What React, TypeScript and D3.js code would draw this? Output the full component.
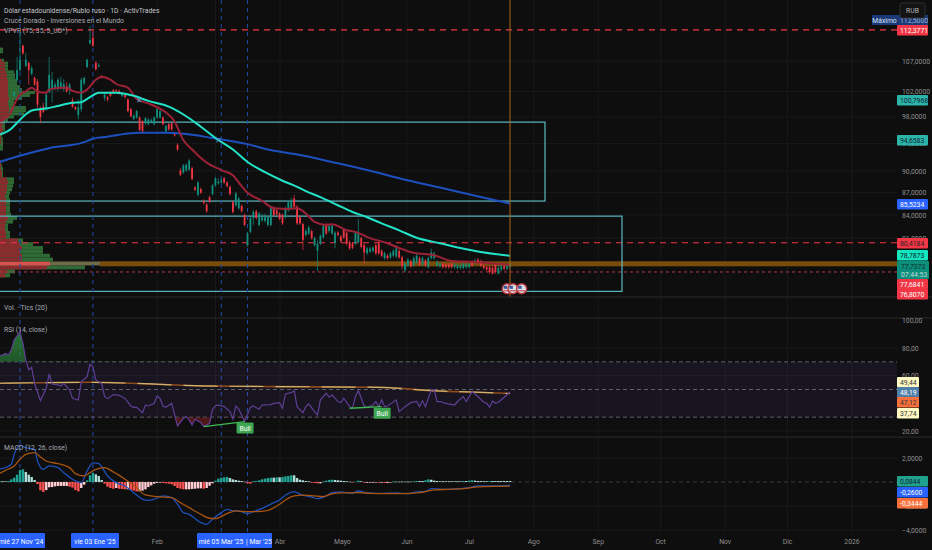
import * as d3 from "d3";

// bar 0 is 27 Nov '24, bar 168 is 21 Jul '25
const candles: number[][] = [
  // open, high, low, close
  [98.9, 99.4, 98.7, 98.8], [101.3, 102.0, 101.0, 102.0], [103.9, 107.7, 103.5, 105.5],
  [105.5, 111.9, 105.2, 107.2], [109.6, 109.8, 108.1, 108.3], [106.2, 108.4, 106.0, 107.2], [106.7, 106.9, 103.1, 105.5],
  [104.9, 106.2, 104.6, 105.8], [104.2, 104.4, 102.9, 103.1], [103.6, 104.0, 99.4, 99.9], [99.4, 99.6, 97.0, 98.0],
  [99.6, 100.2, 98.6, 98.8], [99.2, 101.8, 99.0, 101.5], [101.9, 107.7, 101.7, 104.7], [102.4, 105.2, 100.3, 103.9],
  [102.4, 103.5, 102.2, 103.1], [102.4, 104.2, 102.0, 103.9], [102.5, 104.4, 102.3, 103.5], [102.4, 104.0, 102.0, 103.2],
  [102.8, 103.5, 101.8, 102.0], [102.3, 103.4, 101.5, 103.1], [100.6, 101.0, 99.4, 99.6], [99.5, 99.7, 99.0, 99.2],
  [98.3, 100.7, 97.6, 99.5], [99.2, 104.2, 98.8, 103.9], [103.3, 104.4, 103.0, 104.2], [106.0, 107.4, 105.8, 107.2],
  [110.0, 113.0, 109.8, 110.6], [111.0, 112.3, 109.4, 109.6], [106.7, 107.0, 105.4, 105.6], [106.1, 106.6, 105.9, 106.3],
  [104.5, 104.7, 104.1, 104.3], [101.0, 101.8, 100.5, 101.5], [101.1, 101.3, 100.4, 100.7], [101.8, 102.0, 101.1, 101.3],
  [102.2, 102.4, 101.6, 101.8], [102.2, 102.4, 101.8, 102.0], [102.1, 102.3, 101.5, 101.7], [101.3, 101.9, 101.1, 101.7],
  [101.5, 101.7, 100.9, 101.1], [100.7, 100.9, 98.7, 98.9], [99.2, 99.4, 97.9, 98.1], [97.7, 98.4, 97.5, 98.2],
  [97.9, 99.1, 97.7, 98.9], [97.9, 98.1, 95.8, 96.0], [97.3, 97.5, 95.5, 95.8], [97.0, 98.0, 96.8, 97.8],
  [96.9, 97.8, 96.7, 97.6], [97.2, 97.8, 97.0, 97.5], [96.9, 98.1, 96.7, 97.9], [97.9, 99.4, 97.7, 99.2],
  [97.9, 99.1, 97.7, 98.9], [97.9, 98.1, 96.7, 96.9], [95.8, 96.8, 95.6, 96.6], [96.9, 97.1, 95.9, 96.1],
  [97.0, 97.2, 95.9, 96.1], [95.5, 95.7, 95.0, 95.2], [93.8, 94.0, 92.9, 93.1],
  [90.1, 90.4, 89.3, 89.5], [89.8, 91.0, 89.6, 90.8], [90.1, 91.1, 89.9, 90.9], [90.2, 91.7, 90.0, 91.5], [90.4, 90.6, 88.7, 88.9],
  [87.7, 87.9, 87.2, 87.4], [86.7, 88.6, 86.5, 88.4], [87.5, 87.7, 86.8, 87.0], [85.9, 86.1, 85.4, 85.6],
  [85.4, 85.6, 84.3, 84.5], [86.4, 86.6, 85.6, 85.8], [86.8, 88.2, 86.6, 88.0], [88.0, 89.2, 87.8, 89.0],
  [88.3, 89.0, 88.1, 88.5], [88.4, 89.0, 88.2, 88.7], [89.0, 89.2, 88.2, 88.4], [88.4, 88.6, 87.7, 87.9],
  [87.8, 88.0, 86.6, 86.8], [85.7, 85.9, 84.2, 84.4], [85.3, 87.1, 85.1, 86.9], [84.9, 86.4, 84.7, 86.2],
  [85.2, 85.4, 84.3, 84.5], [84.0, 84.2, 82.5, 82.7], [80.1, 81.8, 79.9, 81.6], [81.8, 83.8, 81.6, 83.6],
  [83.6, 84.7, 82.7, 84.4], [84.5, 84.7, 83.4, 83.6], [82.7, 84.4, 82.5, 84.2], [83.3, 84.2, 83.1, 83.7],
  [83.2, 84.2, 83.0, 83.9], [82.7, 83.9, 82.5, 83.7], [82.7, 85.3, 82.5, 85.0], [84.9, 85.2, 83.8, 84.0],
  [84.6, 84.8, 83.9, 84.1], [84.2, 84.4, 83.3, 83.5], [84.0, 84.2, 82.7, 82.9], [83.7, 85.1, 83.5, 84.9],
  [84.6, 85.9, 84.4, 85.7], [84.9, 86.3, 84.7, 85.9], [86.2, 86.7, 84.9, 85.1], [85.1, 85.3, 82.7, 82.9],
  [83.7, 83.9, 82.7, 82.9], [82.8, 83.0, 79.5, 80.8], [81.4, 82.2, 81.2, 81.9], [81.6, 82.6, 81.4, 82.4],
  [81.9, 82.1, 80.8, 81.0], [80.1, 81.2, 79.9, 81.0], [79.4, 80.7, 76.9, 80.3], [80.3, 81.5, 80.1, 81.3],
  [81.1, 82.8, 80.9, 82.6], [82.8, 83.0, 81.4, 81.6], [81.9, 82.8, 81.7, 82.6], [81.6, 82.8, 81.4, 82.6],
  [80.4, 81.9, 79.7, 81.7], [81.7, 81.9, 81.2, 81.4], [81.2, 81.4, 80.4, 80.6], [82.1, 82.3, 80.9, 81.1],
  [81.7, 81.9, 80.1, 80.3], [80.5, 80.7, 79.5, 79.7], [80.3, 80.5, 79.6, 79.8], [80.3, 81.9, 80.1, 81.7],
  [80.5, 83.5, 80.3, 81.7], [81.0, 81.2, 79.7, 79.9], [80.1, 80.3, 77.8, 79.2], [79.1, 79.9, 78.9, 79.7],
  [79.3, 79.9, 79.1, 79.7], [79.4, 80.0, 79.2, 79.8], [80.1, 80.3, 78.9, 79.1], [80.3, 80.5, 78.9, 79.1],
  [79.4, 79.6, 78.6, 78.8], [78.5, 79.3, 78.3, 79.1], [78.8, 79.0, 78.3, 78.5], [78.6, 79.3, 78.4, 79.1],
  [78.8, 79.6, 78.6, 79.4], [78.7, 80.1, 78.5, 79.7], [79.4, 79.6, 78.4, 78.6], [78.6, 78.8, 77.1, 77.6],
  [77.0, 78.0, 76.8, 77.8], [77.6, 78.5, 77.4, 78.3], [78.1, 78.3, 77.3, 77.5], [77.6, 78.7, 77.4, 78.5],
  [78.0, 79.0, 77.8, 78.8], [78.5, 78.7, 77.5, 77.7], [77.7, 78.7, 77.5, 78.5], [78.2, 78.4, 77.4, 77.6],
  [77.4, 78.7, 77.2, 78.5], [78.5, 79.7, 78.3, 79.2], [78.5, 79.3, 78.3, 79.1], [77.6, 78.2, 77.4, 78.0],
  [77.5, 78.0, 77.3, 77.8], [77.8, 78.0, 77.2, 77.4], [77.7, 77.9, 77.2, 77.4], [77.7, 77.9, 77.2, 77.4],
  [77.8, 78.0, 77.2, 77.4], [77.4, 77.9, 77.2, 77.7], [77.3, 77.8, 77.1, 77.6], [77.3, 77.8, 77.1, 77.6],
  [77.3, 78.0, 77.1, 77.8], [77.4, 77.9, 77.2, 77.7], [77.4, 78.0, 77.2, 77.8], [78.0, 78.2, 77.4, 77.6],
  [77.9, 78.4, 77.7, 78.2], [78.3, 78.5, 77.7, 77.9], [78.1, 78.3, 77.4, 77.6], [77.6, 77.8, 77.1, 77.3],
  [77.4, 77.6, 76.9, 77.1], [77.4, 77.6, 76.6, 76.8], [77.3, 77.5, 76.5, 76.6], [77.7, 77.9, 76.6, 76.8],
  [76.6, 77.6, 76.5, 77.3], [77.1, 77.7, 76.9, 77.5], [77.5, 77.7, 77.0, 77.2], [77.2, 77.7, 77.0, 77.5],
  [77.4, 77.9, 77.3, 77.74],
];
const firstCandleBar = -3;

const redBars = [-7, -3, -2, 0, 2, 4, 6, 9, 10, 14, 16, 18, 21, 23, 26, 28, 31, 33, 37, 40, 44, 47, 50, 53, 56, 59, 64, 69, 73, 75, 78, 83, 87, 92, 95, 98, 101, 105, 107, 112, 115, 120, 126, 130, 135, 142, 148, 155, 162, 168];
const redValues = [97.3, 98.8, 99.9, 101.5, 102, 102.6, 102, 101.8, 102.3, 102.6, 102.6, 102.1, 101.8, 102.3, 103.9, 104.4, 103.9, 103.2, 102.6, 100.8, 100.1, 99.5, 98.7, 97.3, 94.5, 93.1, 91.2, 90.15, 89.4, 88.4, 87, 85.9, 84.9, 84.8, 84.9, 84.2, 83.1, 82.7, 82.8, 82, 81.8, 81, 80.35, 79.75, 79.15, 78.85, 78.15, 78.05, 77.85, 77.68];
const tealBars = [-7, -3, -1, 2, 4, 9, 13, 18, 21, 24, 27, 33, 39, 44, 51, 57, 62, 68, 73, 78, 84, 90, 95, 98, 103, 109, 114, 119, 124, 130, 136, 144, 151, 158, 168];
const tealValues = [95.3, 96.2, 97.1, 98.4, 99, 99.3, 99.7, 100.2, 100.3, 101.1, 101.8, 101.8, 101.3, 100.5, 99.6, 98.1, 96.5, 94.5, 93.1, 91.3, 89.85, 88.65, 87.8, 87.2, 86.4, 85.3, 84.4, 83.7, 82.9, 82, 81.05, 80.35, 79.75, 79.25, 78.79];
const blueBars = [-7, 0, 10, 22, 25, 30, 34, 41, 50, 57, 66, 78, 85, 96, 108, 120, 130, 144, 158, 168];
const blueValues = [91.3, 92.2, 93.3, 94.2, 94.7, 95, 95.3, 95.6, 95.6, 95.4, 94.8, 93.9, 93.1, 92.3, 91.2, 90.05, 89, 87.7, 86.4, 85.52];
const crossBars = [41, 68];
const crossValues = [100.7, 94.5];

// volume profile rows, bottom row first (75 rows requested, the top ones are empty)
const vpFirstPrice = 76.4;
const vpStep = 0.48;
const vpTotal = [10, 15, 85, 100, 53, 50, 43, 43, 33, 23, 10, 10, 8, 8, 13, 17, 11, 10, 10, 10, 10, 9, 10, 12, 13, 14, 14, 3, 3, 3, 2, 1, 0, 0, 0, 3, 3, 3, 3, 2, 3, 5, 5, 5, 8, 14, 24, 26, 26, 15, 14, 22, 30, 35, 22, 20, 17, 17, 15, 15, 14, 8, 8, 8, 4, 0, 0, 3, 3];
const vpDown = [5, 7, 47, 50, 22, 22, 20, 22, 20, 18, 6, 6, 5, 5, 6, 8, 6, 6, 6, 6, 6, 5, 6, 7, 7, 8, 7, 2, 2, 1, 1, 1, 0, 0, 0, 0, 0, 1, 1, 1, 2, 3, 2, 3, 4, 7, 8, 9, 9, 8, 8, 9, 8, 8, 8, 8, 8, 8, 7, 7, 6, 5, 5, 5, 2, 0, 0, 0, 0];

const rsiBars = [-7, -6, -5, -4, -3, -2, 0, 1, 2, 3, 4, 5, 7, 9, 10, 11, 13, 14, 15, 17, 18, 20, 21, 23, 24, 25, 26, 28, 29, 30, 32, 34, 36, 38, 39, 40, 42, 43, 44, 46, 47, 48, 49, 50, 52, 54, 56, 57, 58, 59, 60, 62, 63, 65, 66, 67, 68, 70, 72, 73, 74, 75, 77, 79, 80, 82, 83, 86, 87, 89, 90, 91, 93, 94, 95, 97, 98, 99, 101, 102, 103, 105, 106, 107, 109, 110, 111, 113, 114, 115, 116, 118, 119, 121, 122, 123, 124, 125, 126, 129, 130, 132, 134, 136, 137, 138, 139, 141, 142, 143, 144, 146, 149, 150, 152, 153, 155, 157, 159, 160, 161, 162, 163, 164, 166, 168];
const rsiValues = [74.5, 74.9, 76.1, 74.9, 78.5, 85.8, 91.8, 83.4, 71.3, 64.1, 66, 54.5, 42, 50.9, 61.2, 54, 53.3, 52.5, 54.5, 49.7, 43.6, 42.4, 55.7, 59.3, 68.2, 66.5, 56.9, 54.5, 44.8, 43.4, 46.3, 45.8, 43.6, 38.1, 37.1, 37.1, 33.3, 38.8, 38.1, 40, 45.3, 43.6, 38.1, 37.1, 40, 23.7, 29.2, 30.4, 28, 24.4, 28.5, 26.1, 23.2, 25.6, 35.7, 38.1, 38.8, 37.6, 34, 28.5, 38.1, 35.7, 26.8, 37.1, 38.1, 35.7, 38.8, 39.1, 40, 40.5, 36.4, 46.8, 47.7, 49.2, 37.6, 33.3, 37.6, 39.6, 34, 31.6, 42.5, 47.3, 44.4, 46.1, 41.3, 40.5, 43.7, 37.6, 36.4, 44.9, 49.2, 38.1, 37.2, 38.8, 41.3, 37.6, 42.5, 37.6, 38.1, 42.5, 34, 37.6, 40.5, 41.3, 37.6, 42, 37.6, 49.7, 49.7, 41.3, 41.3, 40, 38.8, 41.3, 44.9, 41.3, 48.5, 44.9, 40.8, 40, 37.2, 41.7, 40, 40.8, 44.4, 48.2];
const rsiMaBars = [-7, 25, 45, 62, 89, 123, 141, 161, 168];
const rsiMaValues = [54.5, 55.2, 54, 52.6, 52.1, 51.6, 49.2, 47.7, 47.12];
const bullBars = [[63, 77], [113, 124]];
const bullValues = [[23.2, 26.8], [36.4, 37.6]];

const macdBars = [-7, -5, -3, -2, 0, 2, 5, 6, 8, 10, 13, 15, 18, 21, 23, 25, 27, 30, 33, 36, 39, 42, 44, 46, 49, 52, 54, 56, 58, 62, 64, 66, 69, 71, 73, 75, 78, 80, 83, 87, 89, 91, 94, 95, 97, 100, 102, 105, 107, 110, 112, 114, 116, 119, 123, 129, 133, 136, 139, 141, 145, 151, 154, 157, 160, 166, 168];
const macdValues = [1.09, 1.2, 1.48, 2.3, 3.06, 2.86, 2.72, 1.75, 1.06, 1.34, 1.2, 0.78, 0.23, -0.05, 0.92, 1.6, 1.53, 0.5, -0.05, -0.33, -0.89, -1.44, -1.53, -1.44, -1.16, -1.3, -1.86, -2.55, -2.69, -3.39, -3.53, -3.11, -2.55, -2.28, -2.41, -2.41, -2.64, -2.47, -2.19, -1.72, -1.5, -1.1, -0.8, -0.89, -1.1, -1.25, -1.39, -1.16, -0.89, -0.83, -0.89, -0.94, -0.75, -0.91, -0.94, -0.91, -0.97, -0.83, -0.78, -0.55, -0.61, -0.55, -0.47, -0.33, -0.33, -0.33, -0.26];
const signalBars = [-7, -5, -2, 0, 2, 5, 7, 9, 13, 17, 19, 22, 24, 26, 29, 32, 36, 40, 43, 47, 52, 55, 58, 62, 65, 67, 71, 74, 78, 81, 85, 89, 91, 94, 97, 101, 104, 107, 111, 116, 120, 126, 131, 137, 142, 147, 153, 157, 164, 168];
const signalValues = [0.7, 0.97, 1.34, 1.89, 2.31, 2.45, 2.09, 1.75, 1.53, 1.2, 0.7, 0.5, 0.78, 1.06, 1.2, 0.84, 0.23, -0.47, -1.08, -1.22, -1.3, -1.72, -2.14, -2.69, -3.02, -3.05, -2.64, -2.41, -2.47, -2.47, -2.36, -1.86, -1.5, -1.16, -1.1, -1.16, -1.22, -0.99, -0.91, -0.89, -0.94, -0.97, -0.97, -0.89, -0.66, -0.61, -0.53, -0.41, -0.36, -0.34];
const firstHistBar = -7;
const histValues = [0.06, 0.06, 0.06, 0.08, 0.22, 0.36, 0.61, 1.0, 1.06, 0.83, 0.61, 0.42, 0.17, -0.17, -0.69, -0.83, -0.67, -0.44, -0.42, -0.36, -0.33, -0.33, -0.33, -0.33, -0.39, -0.47, -0.67, -0.78, -0.5, -0.22, 0.14, 0.56, 0.75, 0.64, 0.5, 0.17, -0.14, -0.39, -0.5, -0.56, -0.5, -0.56, -0.58, -0.61, -0.61, -0.67, -0.72, -0.78, -0.78, -0.72, -0.61, -0.42, -0.28, -0.14, -0.08, -0.06, -0.08, -0.11, -0.14, -0.19, -0.33, -0.5, -0.56, -0.61, -0.61, -0.61, -0.58, -0.56, -0.53, -0.53, -0.56, -0.5, -0.31, -0.11, 0.11, 0.28, 0.36, 0.39, 0.42, 0.33, 0.22, 0.17, 0.11, 0.08, 0.03, -0.11, -0.14, 0.06, 0.08, 0.14, 0.22, 0.28, 0.33, 0.36, 0.36, 0.39, 0.39, 0.42, 0.47, 0.5, 0.56, 0.56, 0.33, 0.19, 0.14, 0.08, 0.06, -0.06, -0.08, -0.11, -0.11, 0.03, 0.11, 0.17, 0.19, 0.17, 0.14, 0.11, 0.08, 0.06, 0.03, -0.03, 0.03, 0.11, 0.06, -0.06, -0.06, -0.06, -0.03, -0.03, -0.06, -0.06, -0.08, -0.08, -0.03, 0.03, 0.03, 0.03, 0.03, 0.03, 0.03, 0.03, 0.06, 0.08, 0.08, 0.08, 0.14, 0.22, 0.19, 0.11, 0.08, 0.06, 0.06, 0.06, 0.06, 0.06, 0.06, 0.06, 0.06, 0.08, 0.08, 0.11, 0.14, 0.11, 0.08, 0.08, 0.06, 0.06, 0.08, 0.08, 0.08, 0.08, 0.08, 0.08, 0.08, 0.08];

const priceTicks = [107, 102, 98, 94, 90, 87, 84, 81];
const rsiTicks = [100, 80, 60, 20];
const macdTicks = [2, -2, -4];
const levelPrices = [112.3771, 80.4184];
const thinLevelPrice = 76.807;
const pocPrice = 77.8;
const monthTicks = [new Date(2025, 1, 1), new Date(2025, 2, 1), new Date(2025, 3, 1), new Date(2025, 4, 1), new Date(2025, 5, 1), new Date(2025, 6, 1), new Date(2025, 7, 1), new Date(2025, 8, 1), new Date(2025, 9, 1), new Date(2025, 10, 1), new Date(2025, 11, 1), new Date(2026, 0, 1)];
const monthLabels = ["Feb", "", "Abr", "Mayo", "Jun", "Jul", "Ago", "Sep", "Oct", "Nov", "Dic", "2026"];
const markedBars = [0, 25, 69, 78];
const flagBars = [167, 169, 172];

const priceTags = [
  { text: "100,7968", y: 100, bg: "#2bb5a8", fg: "#123" },
  { text: "94,6583", y: 140, bg: "#2bb5a8", fg: "#123" },
  { text: "112,3771", y: 30, bg: "#f23645", fg: "#fff" },
  { text: "85,5234", y: 204, bg: "#2962ff", fg: "#fff" },
  { text: "80,4184", y: 243, bg: "#f23645", fg: "#222" },
  { text: "78,7873", y: 255, bg: "#12e6bd", fg: "#123" },
  { text: "77,6841", y: 284, bg: "#f23645", fg: "#fff" },
  { text: "76,8070", y: 294, bg: "#f23645", fg: "#fff" },
  { text: "49,44", y: 382, bg: "#fff9c4", fg: "#333" },
  { text: "48,19", y: 392, bg: "#4f7ea8", fg: "#fff" },
  { text: "47,12", y: 402, bg: "#f7703c", fg: "#333" },
  { text: "37,74", y: 413, bg: "#fff9c4", fg: "#333" },
  { text: "0,0844", y: 481, bg: "#1fa38f", fg: "#123" },
  { text: "-0,2600", y: 492, bg: "#2962ff", fg: "#fff" },
  { text: "-0,3444", y: 503, bg: "#f7703c", fg: "#fff" },
];

const W = 932;
const H = 550;
const AXIS_X = 897;
const FONT = "Roboto, 'Liberation Sans', sans-serif";
const TEXT_SIZE = 6.8;

const x = d3.scaleLinear().domain([0, 168]).range([20, 510]);
const xTime = d3.scaleTime().domain([new Date(2024, 10, 27), new Date(2026, 0, 1)]).range([20, 852]);
const yPrice = d3.scaleLog().domain([107, 84]).range([61, 215]);
const yRsi = d3.scaleLinear().domain([80, 20]).range([348, 431]);
const yMacd = d3.scaleLinear().domain([2, -4]).range([458, 530]);

function seriesPath(bars: number[], values: number[], y: (v: number) => number, curve: d3.CurveFactory = d3.curveMonotoneX) {
  return d3
    .line<number>()
    .x((b) => x(b))
    .y((_, i) => y(values[i]))
    .curve(curve)(bars) as string;
}

function histColor(v: number, prev: number) {
  if (v >= 0) return v > prev ? "#1fa596" : "#b2dfdb";
  return v < prev ? "#ff5252" : "#ffcdd2";
}

export default function App() {
  const rsiArea = d3
    .area<number>()
    .x((b) => x(b))
    .y0(yRsi(70))
    .y1((_, i) => yRsi(rsiValues[i]))(rsiBars) as string;
  const rsiAreaLow = d3
    .area<number>()
    .x((b) => x(b))
    .y0(yRsi(30))
    .y1((_, i) => yRsi(rsiValues[i]))(rsiBars) as string;

  return (
    <svg width={W} height={H} style={{ position: "absolute", left: 0, top: 0, background: "#0e0e0e" }} fontFamily={FONT}>
      <defs>
        <clipPath id="pricePane"><rect x={0} y={0} width={AXIS_X} height={297} /></clipPath>
        <clipPath id="above70"><rect x={0} y={318} width={AXIS_X} height={yRsi(70) - 318} /></clipPath>
        <clipPath id="below30"><rect x={0} y={yRsi(30)} width={AXIS_X} height={20} /></clipPath>
        <linearGradient id="overFill" x1="0" y1="0" x2="0" y2="1">
          <stop offset="0" stopColor="#2e8b3d" stopOpacity={0.8} />
          <stop offset="1" stopColor="#2e8b3d" stopOpacity={0.1} />
        </linearGradient>
      </defs>

      {/* grid */}
      {monthTicks.map((d) => (
        <line key={+d} x1={xTime(d)} x2={xTime(d)} y1={0} y2={533} stroke="#191919" />
      ))}
      {priceTicks.map((p) => (
        <line key={p} x1={0} x2={AXIS_X} y1={yPrice(p)} y2={yPrice(p)} stroke="#191919" />
      ))}
      {rsiTicks.slice(1).map((r) => (
        <line key={r} x1={0} x2={AXIS_X} y1={yRsi(r)} y2={yRsi(r)} stroke="#191919" />
      ))}
      {macdTicks.map((m) => (
        <line key={m} x1={0} x2={AXIS_X} y1={yMacd(m)} y2={yMacd(m)} stroke="#191919" />
      ))}

      {/* volume profile */}
      <g clipPath="url(#pricePane)">
        {vpTotal.map((v, i) => {
          const p = vpFirstPrice + i * vpStep;
          const top = yPrice(p + vpStep / 2);
          const h = yPrice(p - vpStep / 2) - top;
          const isPoc = v === d3.max(vpTotal);
          return (
            <g key={i}>
              <rect x={0} y={top} width={v} height={h} fill={isPoc ? "#6f6a4a" : "#2f6a35"} />
              <rect x={0} y={top} width={vpDown[i]} height={h} fill={isPoc ? "#d9514e" : "#8a2c2e"} />
            </g>
          );
        })}
        <rect x={100} width={AXIS_X - 100} y={yPrice(pocPrice) - 2.5} height={5} fill="#7a4c0a" />
      </g>

      {/* levels and boxes */}
      {levelPrices.map((p) => (
        <line key={p} x1={0} x2={AXIS_X} y1={yPrice(p)} y2={yPrice(p)} stroke="#f23645" strokeWidth={1.2} strokeDasharray="6 5" />
      ))}
      <line x1={0} x2={AXIS_X} y1={yPrice(thinLevelPrice)} y2={yPrice(thinLevelPrice)} stroke="#b8324a" strokeDasharray="3 3" />
      <rect x={-3} y={yPrice(97.2)} width={x(180) + 3} height={yPrice(85.86) - yPrice(97.2)} fill="none" stroke="#5cb9c4" strokeWidth={1.2} />
      <rect x={-3} y={yPrice(83.85)} width={x(206.4) + 3} height={yPrice(74.5) - yPrice(83.85)} fill="none" stroke="#5cb9c4" strokeWidth={1.2} />

      {/* marked dates */}
      {markedBars.map((b) => (
        <line key={b} x1={x(b)} x2={x(b)} y1={0} y2={533} stroke="#1f4aa8" strokeDasharray="4 4" />
      ))}

      {/* candles */}
      <g clipPath="url(#pricePane)">
        {candles.map(([o, h, l, c], i) => {
          const bar = firstCandleBar + i;
          const color = c >= o ? "#12907f" : "#f23645";
          const top = yPrice(Math.max(o, c));
          return (
            <g key={i}>
              <line x1={x(bar)} x2={x(bar)} y1={yPrice(h)} y2={yPrice(l)} stroke={color} strokeWidth={0.7} />
              <rect x={x(bar) - 0.9} y={top} width={1.8} height={Math.max(1, yPrice(Math.min(o, c)) - top)} fill={color} />
            </g>
          );
        })}
        <path d={seriesPath(blueBars, blueValues, yPrice)} fill="none" stroke="#1d4fbf" strokeWidth={2} />
        <path d={seriesPath(redBars, redValues, yPrice)} fill="none" stroke="#9c2238" strokeWidth={2} />
        <path d={seriesPath(tealBars, tealValues, yPrice)} fill="none" stroke="#22e3c7" strokeWidth={2} />
        {crossBars.map((b, i) => (
          <text key={b} x={x(b)} y={yPrice(crossValues[i]) + 3} textAnchor="middle" fontSize={8} fill="#5aa0d0">✕</text>
        ))}
      </g>
      <line x1={510} x2={510} y1={0} y2={297} stroke="#a8661a" strokeWidth={1} />
      {flagBars.map((b) => (
        <g key={b}>
          <circle cx={x(b)} cy={yPrice(74.8)} r={5} fill="#d8dde6" stroke="#b9343a" strokeWidth={1.4} />
          <rect x={x(b) - 3.5} y={yPrice(74.8) - 3} width={3.5} height={3} fill="#3a5a9a" />
          <line x1={x(b) - 3.5} x2={x(b) + 3.5} y1={yPrice(74.8) + 2} y2={yPrice(74.8) + 2} stroke="#c9343a" />
        </g>
      ))}

      {/* pane separators */}
      <line x1={0} x2={W} y1={297} y2={297} stroke="#2a2a2a" />
      <line x1={0} x2={W} y1={318} y2={318} stroke="#2a2a2a" />
      <line x1={0} x2={W} y1={437} y2={437} stroke="#2a2a2a" />

      {/* RSI */}
      <rect x={0} width={AXIS_X} y={yRsi(70)} height={yRsi(30) - yRsi(70)} fill="#7e57c2" opacity={0.1} />
      {[70, 50, 30].map((r) => (
        <line key={r} x1={0} x2={AXIS_X} y1={yRsi(r)} y2={yRsi(r)} stroke="#5f6068" strokeDasharray="4 3" />
      ))}
      <path d={rsiArea} fill="url(#overFill)" clipPath="url(#above70)" />
      <path d={rsiAreaLow} fill="#7a1f1f" opacity={0.6} clipPath="url(#below30)" />
      <path d={seriesPath(rsiMaBars, rsiMaValues, yRsi)} fill="none" stroke="#8f4a1c" strokeWidth={1.6} />
      <path d={seriesPath(rsiMaBars, rsiMaValues, yRsi)} fill="none" stroke="#d0b56e" strokeWidth={1.2} strokeDasharray="34 12" />
      <path d={seriesPath(rsiBars, rsiValues, yRsi, d3.curveLinear)} fill="none" stroke="#5f3f96" strokeWidth={1.2} />
      {bullBars.map((bars, i) => (
        <g key={i}>
          <line x1={x(bars[0])} x2={x(bars[1])} y1={yRsi(bullValues[i][0])} y2={yRsi(bullValues[i][1])} stroke="#3fb950" strokeWidth={1.4} />
          <rect x={x(bars[1]) - 8} y={yRsi(bullValues[i][1]) + 1} width={17} height={11} rx={1} fill="#3fa653" />
          <text x={x(bars[1]) + 0.5} y={yRsi(bullValues[i][1]) + 9} textAnchor="middle" fontSize={TEXT_SIZE} fill="#fff">Bull</text>
        </g>
      ))}

      {/* MACD */}
      <line x1={0} x2={AXIS_X} y1={yMacd(0)} y2={yMacd(0)} stroke="#3a3a3a" strokeDasharray="4 3" />
      {histValues.map((v, i) => {
        const bar = firstHistBar + i;
        const y0 = yMacd(0);
        const yv = yMacd(v);
        return (
          <rect
            key={i}
            x={x(bar) - 1.2}
            y={Math.min(y0, yv)}
            width={2.4}
            height={Math.max(0.6, Math.abs(yv - y0))}
            fill={histColor(v, i ? histValues[i - 1] : 0)}
          />
        );
      })}
      <path d={seriesPath(macdBars, macdValues, yMacd)} fill="none" stroke="#1f4fb8" strokeWidth={1.3} />
      <path d={seriesPath(signalBars, signalValues, yMacd)} fill="none" stroke="#a8540f" strokeWidth={1.3} />

      {/* titles */}
      <g fontSize={TEXT_SIZE} fill="#a9acb3">
        <text x={4} y={12.5} fill="#c4c6cc">Dólar estadounidense/Rublo ruso · 1D · ActivTrades</text>
        <text x={4} y={22.5}>Cruce Dorado - Inversiones en el Mundo</text>
        <text x={4} y={32.5}>VPVR (75, 35, 5_UD*)</text>
        <text x={4} y={309.5}>Vol. · Tics (20)</text>
        <text x={4} y={331.5}>RSI (14, close)</text>
        <text x={4} y={449.5}>MACD (12, 26, close)</text>
      </g>

      {/* right axis */}
      <g fontSize={TEXT_SIZE} fill="#8f8f8f">
        {priceTicks.map((p) => (
          <text key={p} x={902} y={yPrice(p) + 2.5}>{d3.format(".4f")(p).replace(".", ",")}</text>
        ))}
        {rsiTicks.map((r) => (
          <text key={r} x={902} y={yRsi(r) + 2.5}>{d3.format(".2f")(r).replace(".", ",")}</text>
        ))}
        {macdTicks.map((m) => (
          <text key={m} x={902} y={yMacd(m) + 2.5}>{d3.format(".4f")(m).replace(".", ",")}</text>
        ))}
      </g>
      <rect x={872} y={15} width={25} height={10} fill="#1c3a78" />
      <text x={884.5} y={22.5} textAnchor="middle" fontSize={TEXT_SIZE} fill="#d6e2f5">Máximo</text>
      <rect x={897} y={15} width={31} height={10} fill="#1c3a78" />
      <text x={900} y={22.5} fontSize={TEXT_SIZE} fill="#9fb4d8">112,5000</text>
      <rect x={900} y={3} width={25} height={15} rx={2} fill="#131313" stroke="#2e2e2e" />
      <text x={912.5} y={13} textAnchor="middle" fontSize={TEXT_SIZE} fill="#b5b5b5">RUB</text>
      {priceTags.map((t) => (
        <g key={t.text}>
          <rect x={897} y={t.y - 5} width={t.text.length > 5 ? 31 : 22} height={10.5} rx={1} fill={t.bg} />
          <text x={900} y={t.y + 2.6} fontSize={TEXT_SIZE} fill={t.fg}>{t.text}</text>
        </g>
      ))}
      <rect x={897} y={261} width={32} height={18} rx={1} fill="#0b8f7c" />
      <text x={901} y={268.5} fontSize={TEXT_SIZE} fill="#12312d">77,7373</text>
      <text x={901} y={276.5} fontSize={TEXT_SIZE} fill="#c5dcd8">07:44:53</text>

      {/* time axis */}
      <g fontSize={TEXT_SIZE} fill="#8f8f8f" textAnchor="middle">
        {monthTicks.map((d, i) => (
          <text key={+d} x={xTime(d)} y={543.5}>{monthLabels[i]}</text>
        ))}
      </g>
      <g fontSize={TEXT_SIZE} fill="#fff" textAnchor="middle">
        <rect x={-2} y={533} width={47} height={15} rx={1} fill="#2962ff" />
        <text x={21} y={543.5}>mié 27 Nov '24</text>
        <rect x={71} y={533} width={48} height={15} rx={1} fill="#2962ff" />
        <text x={95} y={543.5}>vie 03 Ene '25</text>
        <rect x={197} y={533} width={75} height={15} rx={1} fill="#2962ff" />
        <text x={221} y={543.5}>mié 05 Mar '25</text>
        <text x={259} y={543.5}>| Mar '25</text>
      </g>
    </svg>
  );
}
